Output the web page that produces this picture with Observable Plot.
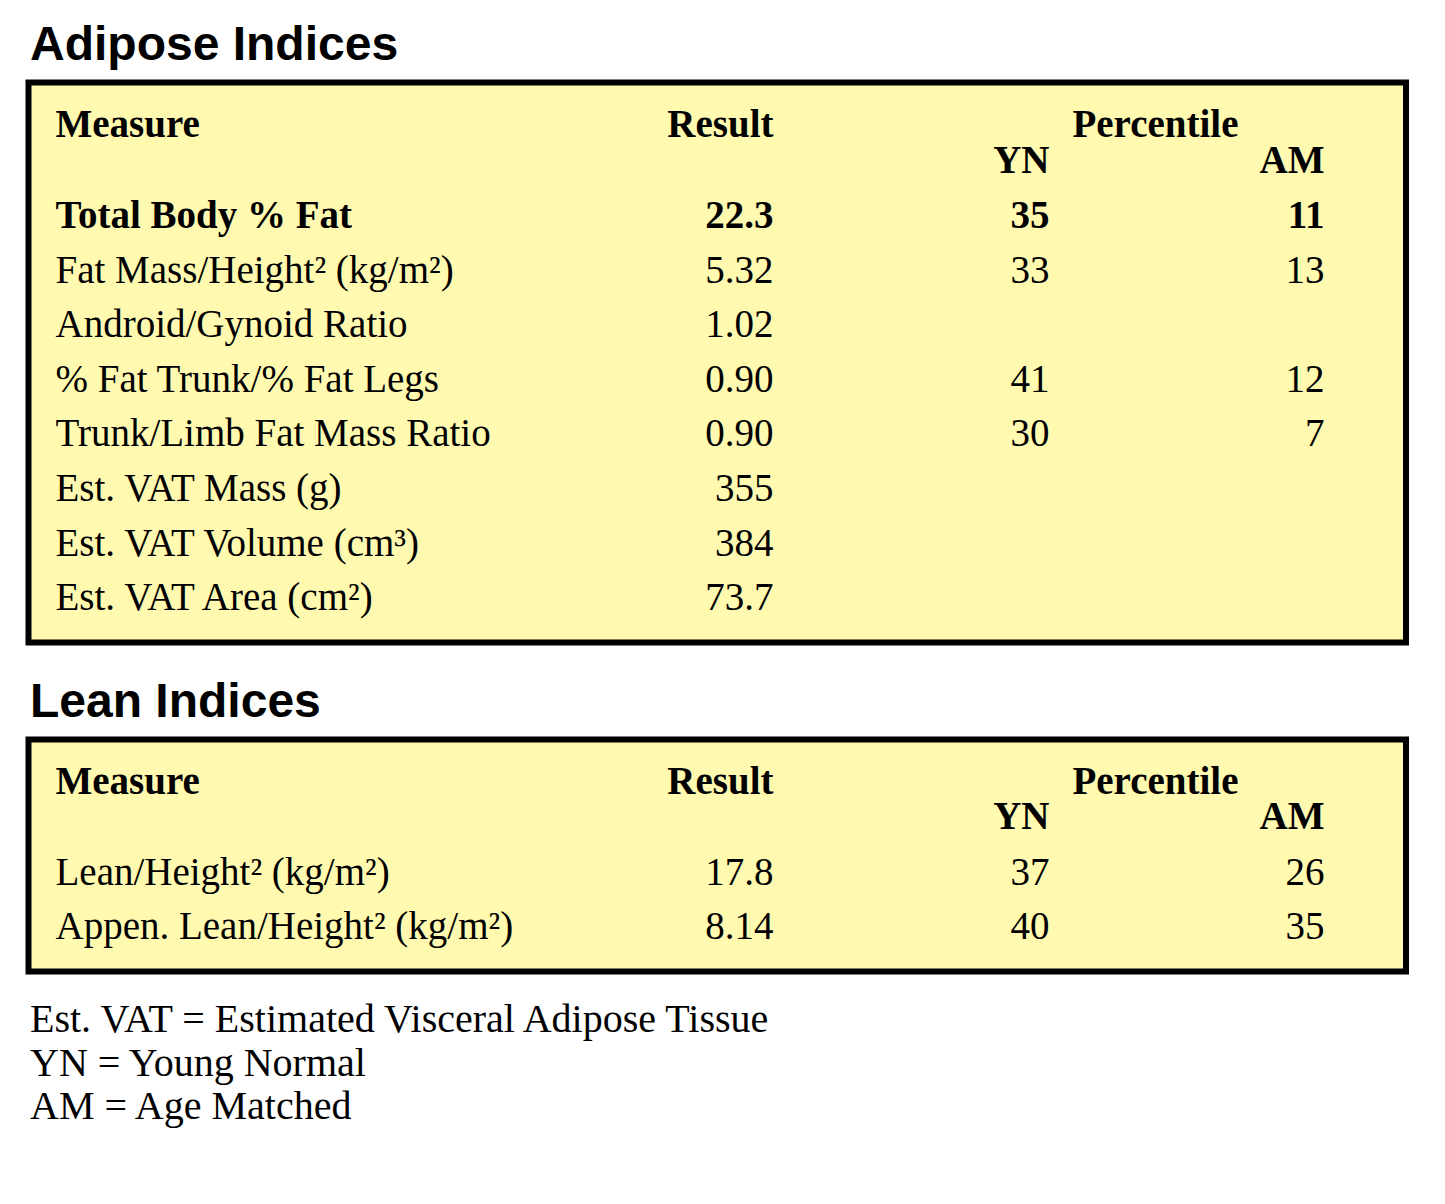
<!DOCTYPE html>
<html><head><meta charset="utf-8">
<script src="https://cdn.jsdelivr.net/npm/d3@7"></script>
<script src="https://cdn.jsdelivr.net/npm/@observablehq/plot@0.6"></script>
<style>
html,body{margin:0;padding:0;background:#fff;}
body{width:1445px;height:1204px;position:relative;overflow:hidden;}
.title{position:absolute;left:30px;font-family:"Liberation Sans",Arial,Helvetica,sans-serif;font-weight:bold;font-size:48px;line-height:48px;color:#000;white-space:nowrap;}
.tbl{position:absolute;left:0;}
.tbl svg{display:block;}
.notes{position:absolute;left:30px;top:997px;font-family:"Liberation Serif","Times New Roman",serif;font-size:40px;line-height:43.5px;color:#000;white-space:nowrap;}
</style></head><body>
<div class="title" style="top:20px">Adipose Indices</div>
<div class="tbl" id="tbl1" style="top:70px"></div>
<div class="title" style="top:677px">Lean Indices</div>
<div class="tbl" id="tbl2" style="top:725px"></div>
<div class="notes" id="notes"></div>
<script>
// ---------- data ----------
const columnHeaders = ["Measure", "Result", "Percentile"];
const subHeaders = ["YN", "AM"];

const adiposeMeasures = [
  "Total Body % Fat",
  "Fat Mass/Height² (kg/m²)",
  "Android/Gynoid Ratio",
  "% Fat Trunk/% Fat Legs",
  "Trunk/Limb Fat Mass Ratio",
  "Est. VAT Mass (g)",
  "Est. VAT Volume (cm³)",
  "Est. VAT Area (cm²)"
];
const adiposeResults = ["22.3", "5.32", "1.02", "0.90", "0.90", "355", "384", "73.7"];
const adiposeYN = [35, 33, null, 41, 30, null, null, null];
const adiposeAM = [11, 13, null, 12, 7, null, null, null];

const leanMeasures = ["Lean/Height² (kg/m²)", "Appen. Lean/Height² (kg/m²)"];
const leanResults = ["17.8", "8.14"];
const leanYN = [37, 40];
const leanAM = [26, 35];

const footnotes = [
  "Est. VAT = Estimated Visceral Adipose Tissue",
  "YN = Young Normal",
  "AM = Age Matched"
];

// ---------- layout / style ----------
const SERIF = "Liberation Serif, Times New Roman, Times, serif";
const FS = 39;
const ROW = 54.6;
const COL = {
  measure: {x: 55, anchor: "start"},
  result: {x: 773, anchor: "end"},
  yn: {x: 1049, anchor: "end"},
  am: {x: 1324, anchor: "end"},
  pct: {x: 1155, anchor: "middle"}
};
const HEADER_R = -1.665;
const SUBHEADER_R = -1.016;

function drawTable(measures, results, yn, am, L) {
  const rows = measures.map((m, i) => ({r: i, measure: m, result: results[i], yn: yn[i], am: am[i], bold: L.boldRows.includes(i)}));
  const base = {fontFamily: SERIF, fontSize: FS, fill: "#000", lineAnchor: "bottom"};
  const marks = [Plot.frame({fill: "#fffab0", stroke: "#000", strokeWidth: 6})];
  for (const key of ["measure", "result", "yn", "am"]) {
    for (const bold of [false, true]) {
      marks.push(Plot.text(rows.filter(d => d[key] != null && d.bold === bold), {
        ...base, x: () => COL[key].x, y: "r", text: key, textAnchor: COL[key].anchor,
        fontWeight: bold ? "bold" : "normal"
      }));
    }
  }
  const hdr = [
    {k: "measure", t: columnHeaders[0], r: HEADER_R},
    {k: "result", t: columnHeaders[1], r: HEADER_R},
    {k: "pct", t: columnHeaders[2], r: HEADER_R},
    {k: "yn", t: subHeaders[0], r: SUBHEADER_R},
    {k: "am", t: subHeaders[1], r: SUBHEADER_R}
  ];
  for (const h of hdr) {
    marks.push(Plot.text([h], {...base, x: d => COL[d.k].x, y: "r", text: "t", textAnchor: COL[h.k].anchor, fontWeight: "bold"}));
  }
  const rTop = (L.frameTop - L.firstBaseline) / ROW;
  const rBottom = (L.frameBottom - L.firstBaseline) / ROW;
  return Plot.plot({
    width: 1445,
    height: L.height,
    marginLeft: 28, marginRight: 1445 - 1405.5,
    marginTop: L.frameTop - L.top,
    marginBottom: L.top + L.height - L.frameBottom,
    x: {type: "linear", domain: [0, 1445], range: [0, 1445], axis: null},
    y: {type: "linear", domain: [rTop, rBottom], range: [L.frameTop - L.top, L.frameBottom - L.top], axis: null},
    style: {background: "transparent", overflow: "visible"},
    marks
  });
}

document.getElementById("tbl1").appendChild(drawTable(adiposeMeasures, adiposeResults, adiposeYN, adiposeAM,
  {top: 70, height: 590, frameTop: 82, frameBottom: 642, firstBaseline: 227.5, boldRows: [0]}));
document.getElementById("tbl2").appendChild(drawTable(leanMeasures, leanResults, leanYN, leanAM,
  {top: 725, height: 265, frameTop: 739, frameBottom: 971, firstBaseline: 884, boldRows: []}));

const notes = document.getElementById("notes");
for (const f of footnotes) { const d = document.createElement("div"); d.textContent = f; notes.appendChild(d); }
</script>
</body></html>
